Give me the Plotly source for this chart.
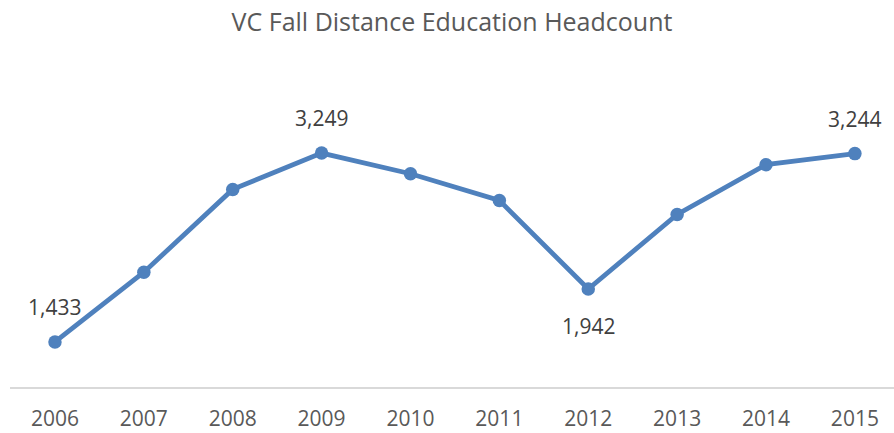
import plotly.graph_objects as go

years = ["2006", "2007", "2008", "2009", "2010", "2011", "2012", "2013", "2014", "2015"]
headcount = [1433, 2104, 2900, 3249, 3051, 2794, 1942, 2659, 3138, 3244]
label_years = ["2006", "2009", "2012", "2015"]
label_shift = [35, 35, -37, 35]

fig = go.Figure()
fig.add_trace(go.Scatter(
    x=list(range(len(years))), y=headcount, mode="lines+markers",
    line=dict(color="#4F81BD", width=4.8),
    marker=dict(color="#4F81BD", size=13.5),
    hoverinfo="skip",
))

for yr, sh in zip(label_years, label_shift):
    i = years.index(yr)
    fig.add_annotation(
        x=i, y=headcount[i], text=f"{headcount[i]:,}", showarrow=False,
        yshift=sh, font=dict(family="Open Sans", size=21, color="#404040"),
    )

fig.update_layout(
    width=894, height=433,
    margin=dict(l=10, r=0, t=127, b=46),
    paper_bgcolor="white", plot_bgcolor="white",
    showlegend=False,
    title=dict(text="VC Fall Distance Education Headcount", x=0.5, xanchor="center",
               xref="paper", y=1, yanchor="top", pad=dict(t=13),
               font=dict(family="Open Sans", size=25, color="#595959")),
    xaxis=dict(range=[-0.506, 9.44], tickmode="array",
               tickvals=list(range(len(years))), ticktext=years,
               showgrid=False, zeroline=False, showline=True,
               linecolor="#D9D9D9", linewidth=1.5, ticks="",
               ticklabelstandoff=12,
               tickfont=dict(family="Open Sans", size=21, color="#595959")),
    yaxis=dict(range=[1000, 3500], visible=False, showgrid=False, zeroline=False),
)

fig.write_html("out.html", config={"displayModeBar": False},
               post_script="document.body.style.margin='0';document.body.style.overflow='hidden';")
